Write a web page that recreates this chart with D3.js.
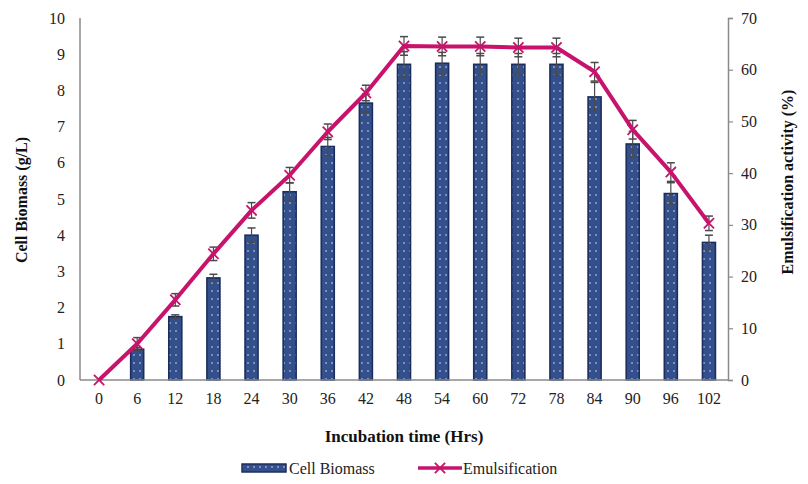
<!DOCTYPE html>
<html>
<head>
<meta charset="utf-8">
<script src="https://cdn.jsdelivr.net/npm/d3@7"></script>
<style>
  html, body { margin: 0; padding: 0; background: #fff; }
  svg { display: block; }
  svg text { font-family: "Liberation Serif", "Times New Roman", serif; }
</style>
</head>
<body>
<svg id="chart" width="808" height="484"></svg>
<script>
// Incubation time points (hours)
const hours = ["0", "6", "12", "18", "24", "30", "36", "42", "48", "54", "60", "72", "78", "84", "90", "96", "102"];
// Cell biomass (g/L) and its error
const biomass = [0, 0.85, 1.75, 2.82, 4.0, 5.2, 6.45, 7.65, 8.72, 8.75, 8.72, 8.72, 8.72, 7.82, 6.52, 5.15, 3.8];
const biomassErr = [0, 0.05, 0.05, 0.1, 0.2, 0.25, 0.25, 0.25, 0.35, 0.3, 0.3, 0.3, 0.3, 0.4, 0.35, 0.3, 0.2];
// Emulsification activity (%) and its error
const emulsification = [0, 7, 15.5, 24.4, 32.8, 39.6, 48, 55.5, 64.6, 64.5, 64.5, 64.3, 64.3, 59.6, 48.4, 40.2, 30.3];
const emulsificationErr = [0, 1.2, 1.2, 1.3, 1.5, 1.5, 1.5, 1.5, 1.8, 1.8, 1.8, 1.8, 1.8, 1.8, 1.8, 1.8, 1.4];
// Axis ticks
const leftTicks = [0, 1, 2, 3, 4, 5, 6, 7, 8, 9, 10];
const rightTicks = [0, 10, 20, 30, 40, 50, 60, 70];

const FONT = "Liberation Serif, Times New Roman, serif";
const svg = d3.select("#chart");
const m = { left: 80, right: 728, top: 18, bottom: 380 };

const x = d3.scaleBand().domain(hours).range([m.left, m.right]).paddingInner(0).paddingOuter(0);
const yL = d3.scaleLinear().domain([0, 10]).range([m.bottom, m.top]);
const yR = d3.scaleLinear().domain([0, 70]).range([m.bottom, m.top]);

const axisColor = "#8a8a8a";
const lineColor = "#c8136c";
const errColor = "#4a4a4a";

// Dotted navy fill for the biomass bars
const defs = svg.append("defs");
const pat = defs.append("pattern")
  .attr("id", "dots").attr("patternUnits", "userSpaceOnUse")
  .attr("width", 6).attr("height", 8);
pat.append("rect").attr("width", 6).attr("height", 8).attr("fill", "#34508c");
pat.append("circle").attr("cx", 2).attr("cy", 3).attr("r", 0.8).attr("fill", "#d8e0f0");

// Bars
const bw = 13;
svg.append("g").selectAll("rect")
  .data(biomass.map((v, i) => ({ h: hours[i], v, e: biomassErr[i] })).filter(d => d.v > 0))
  .join("rect")
  .attr("x", d => x(d.h) + x.bandwidth() / 2 - bw / 2)
  .attr("y", d => yL(d.v))
  .attr("width", bw)
  .attr("height", d => yL(0) - yL(d.v))
  .attr("fill", "url(#dots)")
  .attr("stroke", "#1c2e5e")
  .attr("stroke-width", 1.6);

// Error bars with caps
function errorBars(g, data, scale, cap) {
  data.forEach(d => {
    if (d.e <= 0) return;
    const cx = x(d.h) + x.bandwidth() / 2;
    const y1 = scale(d.v + d.e), y2 = scale(d.v - d.e);
    g.append("line").attr("x1", cx).attr("x2", cx).attr("y1", y1).attr("y2", y2)
      .attr("stroke", errColor).attr("stroke-width", 1.2);
    [y1, y2].forEach(yy => g.append("line")
      .attr("x1", cx - cap).attr("x2", cx + cap).attr("y1", yy).attr("y2", yy)
      .attr("stroke", errColor).attr("stroke-width", 1.5));
  });
}
errorBars(svg.append("g"),
  biomass.map((v, i) => ({ h: hours[i], v, e: biomassErr[i] })), yL, 4);

// Axis lines
const axG = svg.append("g");
axG.append("line").attr("x1", m.left).attr("x2", m.left).attr("y1", m.top).attr("y2", m.bottom)
  .attr("stroke", axisColor).attr("stroke-width", 1.5);
axG.append("line").attr("x1", m.left).attr("x2", m.right).attr("y1", m.bottom).attr("y2", m.bottom)
  .attr("stroke", axisColor).attr("stroke-width", 1.5);

const leftAxis = svg.append("g").attr("transform", `translate(${m.left},0)`)
  .call(d3.axisLeft(yL).tickValues(leftTicks).tickSize(0).tickPadding(15));
const rightAxis = svg.append("g").attr("transform", `translate(${m.right},0)`)
  .call(d3.axisRight(yR).tickValues(rightTicks).tickSize(5).tickPadding(8));
const bottomAxis = svg.append("g").attr("transform", `translate(0,${m.bottom})`)
  .call(d3.axisBottom(x).tickSize(0).tickPadding(13));

[leftAxis, rightAxis, bottomAxis].forEach(a => {
  a.attr("font-family", FONT).attr("font-size", 16);
  a.selectAll(".domain").attr("stroke", axisColor).attr("stroke-width", 1.5);
  a.selectAll(".tick line").attr("stroke", axisColor).attr("stroke-width", 1.2);
  a.selectAll("text").attr("fill", "#222");
});
leftAxis.select(".domain").remove();
bottomAxis.select(".domain").remove();

// Emulsification line with error bars and cross markers
const pts = emulsification.map((v, i) => ({ h: hours[i], v, e: emulsificationErr[i] }));
errorBars(svg.append("g"), pts, yR, 4);

const line = d3.line().x(d => x(d.h) + x.bandwidth() / 2).y(d => yR(d.v));
svg.append("path").datum(pts).attr("d", line)
  .attr("fill", "none").attr("stroke", lineColor).attr("stroke-width", 4)
  .attr("stroke-linejoin", "round");

const cross = d3.symbol().type(d3.symbolX).size(70);
svg.append("g").selectAll("path").data(pts).join("path")
  .attr("transform", d => `translate(${x(d.h) + x.bandwidth() / 2},${yR(d.v)})`)
  .attr("d", cross).attr("fill", "none").attr("stroke", lineColor).attr("stroke-width", 1.8);

// Axis titles
svg.append("text").attr("x", 404).attr("y", 442).attr("text-anchor", "middle")
  .attr("font-family", FONT).attr("font-size", 17).attr("font-weight", "bold").attr("fill", "#111")
  .text("Incubation time (Hrs)");
svg.append("text").attr("transform", "translate(27,200) rotate(-90)").attr("text-anchor", "middle")
  .attr("font-family", FONT).attr("font-size", 16).attr("font-weight", "bold").attr("fill", "#111")
  .text("Cell Biomass (g/L)");
svg.append("text").attr("transform", "translate(793,182) rotate(-90)").attr("text-anchor", "middle")
  .attr("font-family", FONT).attr("font-size", 16).attr("font-weight", "bold").attr("fill", "#111")
  .text("Emulsification activity (%)");

// Legend
const lg = svg.append("g");
lg.append("rect").attr("x", 242).attr("y", 464).attr("width", 44).attr("height", 8)
  .attr("fill", "url(#dots)").attr("stroke", "#1c2e5e").attr("stroke-width", 1.5);
lg.append("text").attr("x", 289).attr("y", 474).attr("font-family", FONT).attr("font-size", 16)
  .attr("fill", "#222").text("Cell Biomass");
lg.append("line").attr("x1", 418).attr("x2", 462).attr("y1", 468).attr("y2", 468)
  .attr("stroke", lineColor).attr("stroke-width", 3.5);
lg.append("path").attr("transform", "translate(440,468)").attr("d", cross)
  .attr("fill", "none").attr("stroke", lineColor).attr("stroke-width", 1.8);
lg.append("text").attr("x", 463).attr("y", 474).attr("font-family", FONT).attr("font-size", 16)
  .attr("fill", "#222").text("Emulsification");
</script>
</body>
</html>
